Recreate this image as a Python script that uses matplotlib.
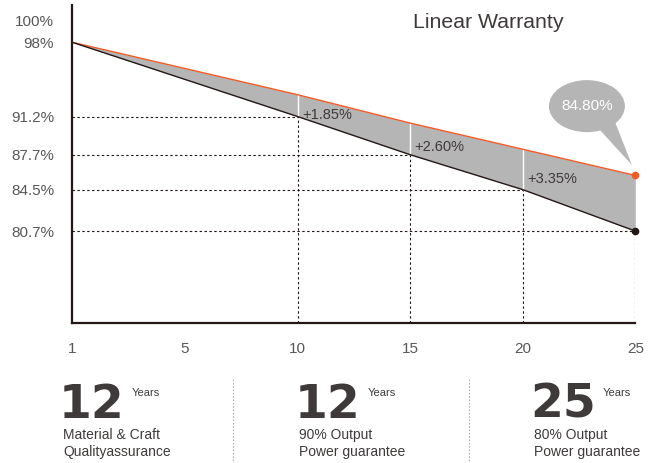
import numpy as np
import matplotlib.pyplot as plt
from matplotlib.patches import Ellipse, Polygon
from matplotlib.lines import Line2D

plt.rcParams['font.family'] = ['Liberation Sans', 'DejaVu Sans']

# data
year_labels = ['1', '5', '10', '15', '20', '25']
line_pos = [0, 2, 3, 4, 5]            # positions of years 1, 10, 15, 20, 25
standard = [98, 91.2, 87.7, 84.5, 80.7]     # black line (tick values)
linear = [98, 93.2, 90.6, 88.2, 85.8]       # orange line as drawn
gains = ['+1.85%', '+2.60%', '+3.35%']
end_label = '84.80%'
ytick_vals = [100, 98, 91.2, 87.7, 84.5, 80.7]
ytick_text = ['100%', '98%', '91.2%', '87.7%', '84.5%', '80.7%']

big_nums = ['12', '12', '25']
desc = [['Material & Craft', 'Qualityassurance'],
        ['90% Output', 'Power guarantee'],
        ['80% Output', 'Power guarantee']]

W, H = 659, 463
fig = plt.figure(figsize=(W / 100, H / 100), dpi=100)
ax = fig.add_axes([72.3 / W, 1 - 322.7 / H, 563 / W, 317.7 / H])
ax.set_xlim(0, 5)
ax.set_ylim(72.3, 101.42)

dark = '#231815'
orange = '#f15a24'
fill_c = '#b5b5b5'
txt = '#3e3a39'
tick_c = '#595757'

ax.fill_between(line_pos, standard, linear, color=fill_c, lw=0, zorder=1)
ax.plot(line_pos, linear, color=orange, lw=1.0, zorder=4)
ax.plot(line_pos, standard, color=dark, lw=1.0, zorder=4)
# right edge of the band
ax.plot([line_pos[-1]] * 2, [standard[-1], linear[-1]], color='#cfcfcf', lw=1, zorder=3)

# white separators inside band, dotted guides
for i in range(1, len(line_pos)):
    p, s, l = line_pos[i], standard[i], linear[i]
    if i < len(line_pos) - 1:
        ax.plot([p, p], [s, l], color='white', lw=1, zorder=2)
    ax.plot([p, p], [72.3, s], color=dark, lw=0.8, ls=(0, (2.2, 2.2)), zorder=2)
    ax.plot([0, p], [s, s], color=dark, lw=0.8, ls=(0, (2.2, 2.2)), zorder=2)

# gain labels sit just above the black line
gain_lift = [0.15, 0.75, 0.95]
for i, g in enumerate(gains):
    p = line_pos[i + 1]
    ax.text(p + 0.04, standard[i + 1] + gain_lift[i], g, fontsize=10.5, color=txt,
            va='center', ha='left', zorder=5)

ax.plot(line_pos[-1], linear[-1], 'o', color=orange, ms=4.5, zorder=6, clip_on=False)
ax.plot(line_pos[-1], standard[-1], 'o', color=dark, ms=4.5, zorder=6, clip_on=False)

# speech bubble
bx, by = line_pos[-1] - 0.43, linear[-1] + 6.35
ax.add_patch(Ellipse((bx, by), 0.675, 4.77, color=fill_c, lw=0, zorder=5))
ax.add_patch(Polygon([(bx + 0.1, by - 2.0), (bx + 0.25, by - 1.45), (line_pos[-1] - 0.03, linear[-1] + 0.95)],
                     closed=True, color=fill_c, lw=0, zorder=5))
ax.text(bx, by, end_label, fontsize=11, color='white', ha='center', va='center', zorder=6)

ax.set_xticks(range(len(year_labels)))
ax.set_xticklabels(year_labels)
ax.set_yticks(ytick_vals)
ax.set_yticklabels(ytick_text)
ax.tick_params(axis='both', length=0, labelsize=11, labelcolor=tick_c)
ax.tick_params(axis='x', pad=14)
ax.tick_params(axis='y', pad=13)
for s in ['top', 'right']:
    ax.spines[s].set_visible(False)
for s in ['left', 'bottom']:
    ax.spines[s].set_linewidth(1.6)
    ax.spines[s].set_color(dark)

fig.text(488.5 / W, 1 - 22.7 / H, 'Linear Warranty', fontsize=15.3, color=txt, ha='center', va='center')

# bottom info blocks
col_x = [63, 299, 534]
for i in range(3):
    x = col_x[i]
    fig.text(x / W - 0.006, 1 - 418 / H, big_nums[i], fontsize=34, fontweight='bold',
             family='DejaVu Sans', color='#3e3a39', ha='left', va='baseline')
    fig.text((x + 69) / W, 1 - 392.7 / H, 'Years', fontsize=8, color=txt, ha='left', va='center')
    fig.text(x / W, 1 - 435 / H, desc[i][0], fontsize=10, color=txt, ha='left', va='center')
    fig.text(x / W, 1 - 452 / H, desc[i][1], fontsize=10, color=txt, ha='left', va='center')

for sx in [233, 469]:
    fig.add_artist(Line2D([sx / W, sx / W], [1 - 379 / H, 0], color='#b0b0b0', lw=0.8,
                          ls=(0, (1.5, 1.5))))

fig.savefig('out.png', dpi=100)
